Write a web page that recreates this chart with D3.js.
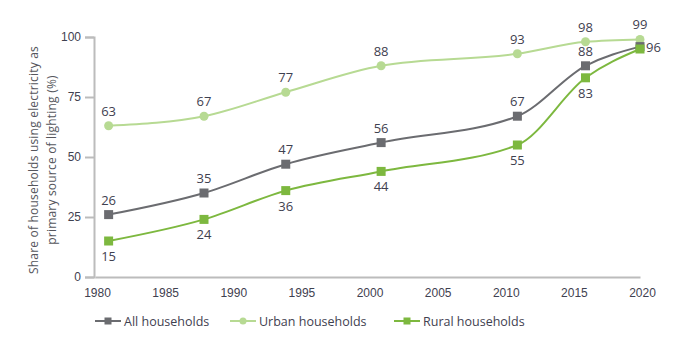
<!DOCTYPE html>
<html>
<head>
<meta charset="utf-8">
<script src="https://cdn.jsdelivr.net/npm/d3@7"></script>
<style>
  body { margin: 0; background: #fff; }
  svg { font-family: "Open Sans", "Noto Sans", sans-serif; }
</style>
</head>
<body>
<div id="chart"></div>
<script>
var years = [1981, 1988, 1994, 2001, 2011, 2016, 2020];
var allHouseholds = [26, 35, 47, 56, 67, 88, 96];
var urbanHouseholds = [63, 67, 77, 88, 93, 98, 99];
var ruralHouseholds = [15, 24, 36, 44, 55, 83, 95];
var yTicks = [0, 25, 50, 75, 100];
var xTicks = [1980, 1985, 1990, 1995, 2000, 2005, 2010, 2015, 2020];

var width = 682, height = 342;
var textColor = "#3f4150";

var svg = d3.select("#chart").append("svg")
            .attr("width", width)
            .attr("height", height);

var x = d3.scaleLinear().domain([1980, 2020]).range([95, 640]);
var y = d3.scaleLinear().domain([0, 100]).range([277, 37]);

// y axis
var yAxis = svg.append("g")
               .attr("transform", "translate(94,0)")
               .call(d3.axisLeft(y).tickValues(yTicks).tickSize(9).tickPadding(4));
yAxis.select(".domain").attr("stroke", "#bcbcbc").attr("stroke-width", 2);
yAxis.selectAll(".tick line").attr("stroke", "#bcbcbc").attr("stroke-width", 2);
yAxis.selectAll(".tick text").attr("fill", textColor).style("font-size", "12px");

// x axis (no tick marks)
var xAxis = svg.append("g")
               .attr("transform", "translate(0,277)")
               .call(d3.axisBottom(x).tickValues(xTicks).tickSize(0).tickPadding(11).tickFormat(d3.format("d")));
xAxis.select(".domain").attr("stroke", "#bcbcbc").attr("stroke-width", 2);
xAxis.selectAll(".tick text").attr("fill", textColor).style("font-size", "12px")
     .attr("dx", 2);

// y axis title
var title = svg.append("text")
               .attr("transform", "translate(38,160) rotate(-90)")
               .attr("text-anchor", "middle")
               .attr("fill", "#55565c")
               .style("font-size", "12px")
               .style("letter-spacing", "0.2px");
title.append("tspan").attr("x", 0).attr("dy", 0).text("Share of households using electricity as");
title.append("tspan").attr("x", 0).attr("dy", 18).text("primary source of lighting (%)");

var series = [
  { name: "Urban households", values: urbanHouseholds, color: "#b7da93", marker: "circle", label: "above" },
  { name: "All households", values: allHouseholds, color: "#6b6c70", marker: "square", label: "above" },
  { name: "Rural households", values: ruralHouseholds, color: "#7db83f", marker: "square", label: "below" }
];

var line = d3.line()
             .x(function(d, i) { return x(years[i]); })
             .y(function(d) { return y(d); })
             .curve(d3.curveMonotoneX);

series.forEach(function(s) {
  var g = svg.append("g");
  g.append("path")
   .attr("d", line(s.values))
   .attr("fill", "none")
   .attr("stroke", s.color)
   .attr("stroke-width", 2);

  if (s.marker === "circle") {
    g.selectAll("circle").data(s.values).enter().append("circle")
     .attr("cx", function(d, i) { return x(years[i]); })
     .attr("cy", function(d) { return y(d); })
     .attr("r", 4.5)
     .attr("fill", s.color);
  } else {
    g.selectAll("rect").data(s.values).enter().append("rect")
     .attr("x", function(d, i) { return x(years[i]) - 4.5; })
     .attr("y", function(d) { return y(d) - 4.5; })
     .attr("width", 9)
     .attr("height", 9)
     .attr("fill", s.color);
  }
});

// value labels
function addLabels(s, skipLast) {
  var vals = s.values.map(function(v, i) { return { v: v, i: i }; });
  if (skipLast) vals = vals.slice(0, -1);
  svg.append("g").selectAll("text").data(vals).enter().append("text")
     .attr("x", function(d) { return x(years[d.i]); })
     .attr("y", function(d) { return s.label === "above" ? y(d.v) - 10 : y(d.v) + 20; })
     .attr("text-anchor", "middle")
     .attr("fill", textColor)
     .style("font-size", "13px")
     .text(function(d) { return d.v; });
}
addLabels(series[0], false);
addLabels(series[1], true);
addLabels(series[2], true);

// final value of all households, placed to the right of the markers
var last = allHouseholds.length - 1;
svg.append("text")
   .attr("x", x(years[last]) + 6)
   .attr("y", y(allHouseholds[last]) + 5)
   .attr("fill", textColor)
   .style("font-size", "13px")
   .text(allHouseholds[last]);

// legend
var legendItems = [
  { name: "All households", color: "#6b6c70", marker: "square", x: 95 },
  { name: "Urban households", color: "#b7da93", marker: "circle", x: 230 },
  { name: "Rural households", color: "#7db83f", marker: "square", x: 394 }
];
var legend = svg.append("g").attr("transform", "translate(0,321)");
legendItems.forEach(function(d) {
  legend.append("line")
        .attr("x1", d.x).attr("x2", d.x + 26)
        .attr("y1", 0).attr("y2", 0)
        .attr("stroke", d.color).attr("stroke-width", 2);
  if (d.marker === "circle") {
    legend.append("circle").attr("cx", d.x + 13).attr("cy", 0).attr("r", 3.5).attr("fill", d.color);
  } else {
    legend.append("rect").attr("x", d.x + 9.5).attr("y", -3.5).attr("width", 7).attr("height", 7).attr("fill", d.color);
  }
  legend.append("text")
        .attr("x", d.x + 29)
        .attr("y", 4.5)
        .attr("fill", textColor)
        .style("font-size", "12.5px")
        .text(d.name);
});
</script>
</body>
</html>
